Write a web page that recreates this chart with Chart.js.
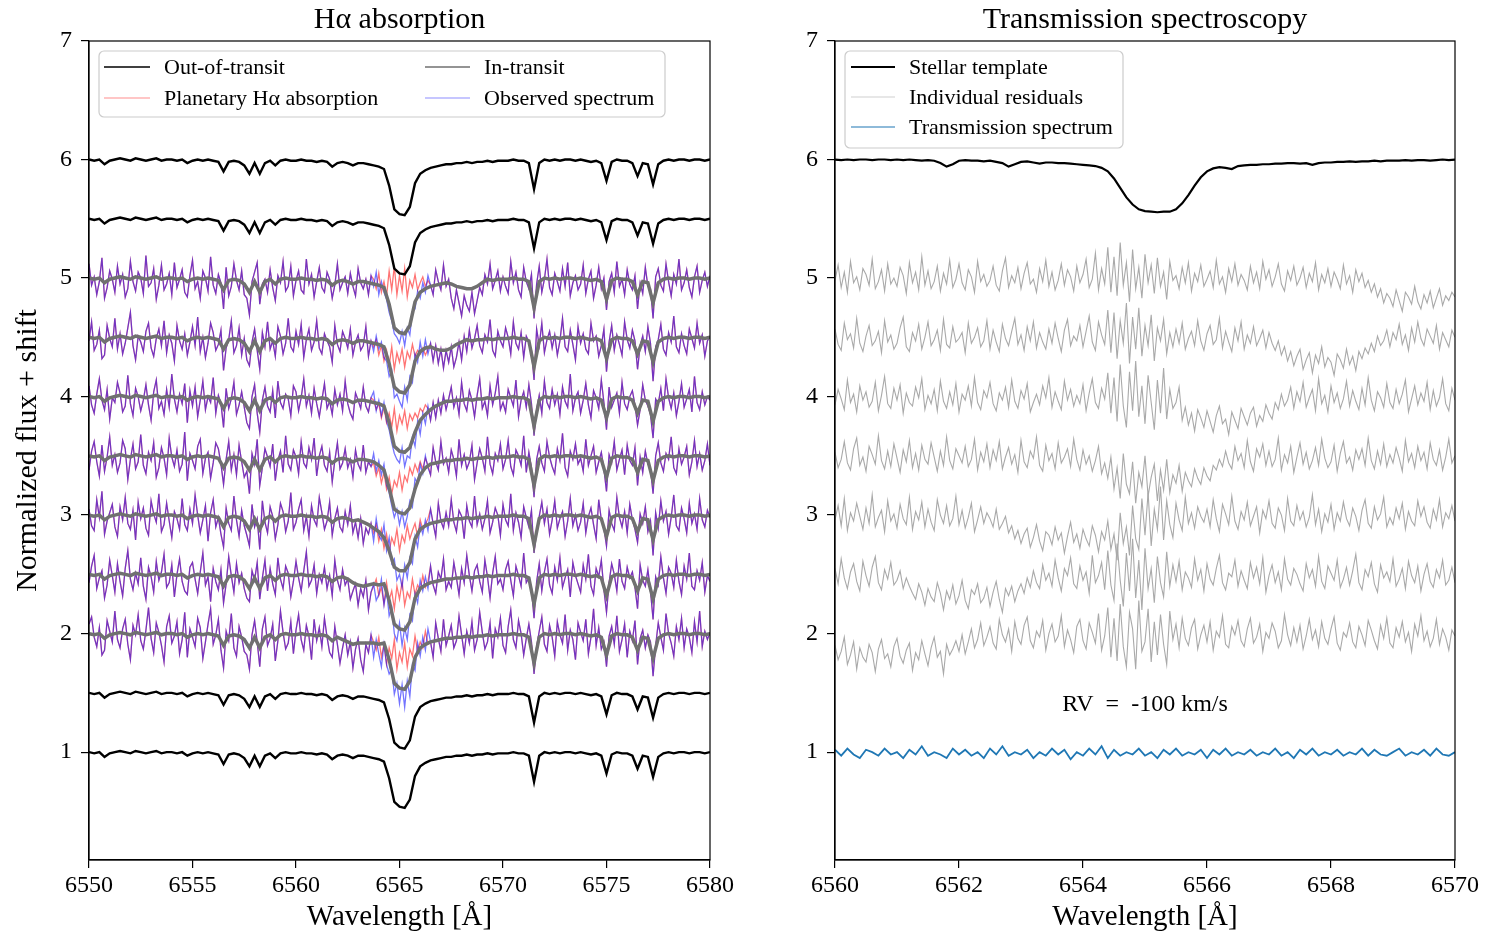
<!DOCTYPE html>
<html>
<head>
<meta charset="utf-8">
<title>H-alpha absorption and transmission spectroscopy</title>
<script src="https://cdn.jsdelivr.net/npm/chart.js@4.4.0/dist/chart.umd.min.js"></script>
<style>
    html, body { margin: 0; padding: 0; background: #fff; }
    #wrap { position: relative; width: 1486px; height: 935px; }
    canvas { position: absolute; top: 0; }
    #leftChart { left: 0; }
    #rightChart { left: 743px; }
</style>
</head>
<body>
<div id="wrap">
    <canvas id="leftChart" width="743" height="935"></canvas>
    <canvas id="rightChart" width="743" height="935"></canvas>
</div>
<script>
// --- Data ---

// Left panel wavelength grids: 0.25 A for the smooth spectra, 0.125 A for the noisy ones
const leftWave = Array.from({ length: 121 }, (_, i) => +(6550 + i * 0.25).toFixed(3));
const leftWaveFine = Array.from({ length: 241 }, (_, i) => +(6550 + i * 0.125).toFixed(3));
const leftTicksX = [6550, 6555, 6560, 6565, 6570, 6575, 6580];
const yTicks = [1, 2, 3, 4, 5, 6, 7];

// Out-of-transit stellar spectrum (normalized)
const starFlux = [
    1.00, 0.99, 1.00, 0.96, 0.99, 1.00, 1.01, 1.00, 0.99, 1.01,
    1.00, 0.99, 1.00, 1.01, 0.99, 1.00, 1.00, 0.99, 1.00, 0.97,
    0.99, 1.00, 0.99, 1.00, 0.99, 0.98, 0.90, 0.98, 0.99, 0.98,
    0.95, 0.88, 0.97, 0.88, 0.97, 0.99, 0.95, 0.99, 1.00, 0.99,
    0.99, 1.00, 0.99, 0.99, 0.98, 0.99, 0.98, 0.94, 0.97, 0.98,
    0.97, 0.95, 0.97, 0.97, 0.96, 0.95, 0.94, 0.92, 0.78, 0.58,
    0.54, 0.53, 0.60, 0.80, 0.88, 0.91, 0.93, 0.94, 0.95, 0.96,
    0.96, 0.97, 0.97, 0.98, 0.97, 0.98, 0.98, 0.99, 0.98, 0.99,
    0.99, 0.99, 1.00, 0.99, 0.99, 0.97, 0.75, 0.97, 1.00, 0.99,
    1.00, 0.99, 1.00, 1.00, 0.99, 1.00, 0.99, 0.98, 0.99, 0.97,
    0.82, 0.98, 1.00, 0.99, 0.99, 0.97, 0.86, 0.97, 0.96, 0.79,
    0.96, 0.99, 1.00, 0.99, 1.00, 1.00, 0.99, 1.00, 1.00, 0.99, 1.00
];
const outShifts = [0, 0.5, 4.5, 5.0];

// In-transit spectra: the stellar spectrum with the planetary dip spliced in
const inRow1 = [...starFlux.slice(0, 48), 0.97, 0.95, 0.93, 0.91, 0.92, 0.92, 0.92, 0.92, 0.91, ...starFlux.slice(57)];
const inRow2 = [...starFlux.slice(0, 50), 0.96, 0.93, 0.91, 0.90, 0.91, 0.92, 0.91, ...starFlux.slice(57)];
const inRow3 = [...starFlux.slice(0, 52), 0.96, 0.94, 0.92, 0.89, 0.86, 0.81, 0.70, 0.56, 0.53, 0.53, 0.60, ...starFlux.slice(63)];
const inRow4 = [...starFlux.slice(0, 56), 0.92, 0.88, 0.73, 0.55, 0.52, 0.51, 0.56, 0.72, 0.84, 0.90, ...starFlux.slice(66)];
const inRow5 = [...starFlux.slice(0, 61), 0.53, 0.57, 0.70, 0.80, 0.85, 0.89, 0.92, 0.94, ...starFlux.slice(69)];
const inRow6 = [...starFlux.slice(0, 66), 0.92, 0.90, 0.89, 0.89, 0.91, 0.94, 0.96, ...starFlux.slice(73)];
const inRow7 = [...starFlux.slice(0, 70), 0.95, 0.93, 0.92, 0.91, 0.91, 0.93, 0.96, ...starFlux.slice(77)];
const inShifts = [1.0, 1.5, 2.0, 2.5, 3.0, 3.5, 4.0];

// Observed spectra (blue), on the fine grid
const obsRow1 = [
    1.08, 1.14, 0.97, 0.89, 1.05, 0.82, 0.86, 1.11, 1.02, 0.93,
    1.19, 0.95, 0.88, 1.04, 1.12, 0.91, 0.78, 1.07, 0.99, 1.16,
    0.94, 0.87, 1.03, 1.22, 0.96, 0.84, 1.09, 1.01, 0.90, 0.76,
    1.06, 1.15, 0.92, 0.98, 1.10, 0.83, 0.95, 1.18, 0.80, 1.04,
    0.97, 0.89, 1.13, 1.05, 0.79, 0.93, 1.08, 1.21, 0.91, 0.99,
    1.12, 0.86, 0.71, 1.02, 0.94, 1.17, 0.88, 0.81, 1.06, 0.97,
    0.85, 0.82, 0.70, 0.99, 1.11, 0.93, 0.72, 1.04, 1.14, 0.90,
    0.96, 1.08, 0.77, 0.94, 1.19, 1.01, 0.87, 0.92, 1.10, 0.83,
    1.03, 1.16, 0.95, 0.86, 1.07, 0.98, 0.78, 1.12, 0.94, 1.05,
    0.89, 1.13, 0.97, 0.84, 0.80, 1.06, 0.91, 0.75, 0.88, 0.99,
    0.82, 0.93, 0.71, 0.87, 0.96, 0.78, 0.68, 0.91, 0.84, 0.99,
    0.80, 0.95, 0.83, 0.72, 0.91, 0.74, 0.66, 0.70, 0.49, 0.58,
    0.41, 0.57, 0.38, 0.60, 0.47, 0.74, 0.69, 0.92, 0.81, 0.97,
    0.86, 1.04, 0.93, 0.80, 1.09, 0.96, 0.85, 1.12, 0.90, 0.98,
    1.07, 0.88, 0.94, 1.15, 0.99, 0.83, 1.02, 0.92, 1.10, 0.86,
    0.95, 1.18, 1.01, 0.87, 0.93, 1.09, 0.79, 1.04, 0.97, 1.13,
    0.90, 0.84, 1.06, 1.20, 0.95, 0.88, 1.11, 1.00, 0.82, 0.96,
    1.08, 0.93, 0.66, 0.89, 1.02, 1.14, 0.91, 0.85, 1.07, 0.97,
    0.81, 1.10, 0.99, 0.92, 1.16, 0.86, 1.03, 0.95, 0.78, 1.09,
    1.01, 0.94, 1.12, 0.83, 0.97, 1.21, 0.90, 1.05, 0.87, 0.93,
    0.72, 0.98, 1.06, 0.91, 1.15, 0.85, 0.95, 1.08, 0.80, 1.02,
    0.94, 1.11, 0.74, 0.96, 1.03, 0.88, 0.99, 0.93, 0.64, 0.90,
    1.09, 0.97, 0.86, 1.17, 1.00, 0.92, 0.81, 1.06, 0.95, 1.13,
    0.88, 1.04, 0.97, 0.84, 1.10, 0.93, 1.19, 0.89, 1.02, 0.95,
    1.01
];
const obsRow2 = [
    0.93, 1.07, 1.16, 0.88, 0.97, 1.03, 0.80, 0.91, 1.12, 0.99,
    0.85, 1.09, 0.94, 0.82, 1.05, 1.20, 0.96, 0.87, 1.01, 0.92,
    1.14, 0.90, 0.79, 1.06, 0.98, 0.85, 1.11, 0.95, 1.02, 1.17,
    0.89, 0.93, 1.08, 0.81, 1.00, 1.13, 0.94, 0.86, 0.83, 1.06,
    1.10, 0.96, 0.84, 1.02, 1.18, 0.91, 0.98, 0.77, 1.05, 0.94,
    0.87, 1.04, 0.76, 0.92, 1.15, 0.99, 0.85, 1.09, 0.93, 1.01,
    0.88, 0.80, 0.77, 1.03, 0.95, 1.10, 0.79, 0.97, 1.12, 0.86,
    1.05, 0.92, 0.83, 1.14, 0.96, 0.88, 1.07, 1.01, 0.81, 0.94,
    1.11, 0.97, 0.86, 1.03, 1.19, 0.90, 0.95, 1.08, 0.84, 1.00,
    0.93, 1.06, 0.88, 0.99, 0.82, 1.12, 0.95, 0.87, 1.04, 0.91,
    0.96, 0.79, 0.86, 0.92, 0.74, 0.88, 0.81, 0.95, 0.70, 0.85,
    0.92, 0.78, 0.83, 0.96, 0.74, 0.87, 0.65, 0.72, 0.50, 0.44,
    0.59, 0.40, 0.55, 0.45, 0.66, 0.61, 0.84, 0.76, 0.95, 0.86,
    0.98, 0.88, 1.07, 0.91, 0.84, 1.02, 0.96, 1.13, 0.87, 0.94,
    0.89, 1.10, 0.97, 0.83, 1.05, 0.93, 1.16, 0.99, 0.86, 1.03,
    1.08, 0.94, 0.85, 1.12, 0.98, 0.80, 1.01, 1.15, 0.92, 0.96,
    0.87, 1.04, 1.11, 0.95, 0.82, 1.07, 0.99, 0.90, 1.18, 0.93,
    0.97, 0.88, 0.63, 0.94, 1.09, 0.86, 1.02, 1.13, 0.91, 0.84,
    1.06, 0.95, 1.14, 0.89, 0.97, 1.04, 0.81, 1.10, 0.99, 0.92,
    0.85, 1.08, 0.96, 1.17, 0.90, 0.83, 1.05, 0.98, 1.12, 0.87,
    0.68, 0.93, 1.09, 1.00, 0.86, 1.13, 0.94, 0.88, 1.06, 0.97,
    1.02, 0.89, 0.71, 1.08, 0.95, 0.90, 1.04, 0.86, 0.62, 0.98,
    0.91, 1.15, 0.97, 0.84, 1.06, 1.01, 0.89, 1.12, 0.94, 0.83,
    1.07, 0.96, 1.18, 0.90, 0.87, 1.03, 0.95, 1.10, 0.85, 0.99,
    0.94
];
const obsRow3 = [
    1.05, 0.91, 0.87, 1.13, 0.98, 1.20, 0.84, 0.95, 1.02, 1.09,
    0.90, 0.82, 1.07, 0.96, 1.15, 0.93, 0.88, 1.04, 0.79, 1.11,
    0.97, 1.06, 0.89, 0.83, 1.12, 1.01, 0.94, 1.18, 0.86, 0.92,
    1.10, 0.95, 0.81, 1.03, 0.97, 0.88, 1.14, 0.92, 0.87, 1.05,
    0.93, 1.17, 1.00, 0.85, 0.96, 1.08, 0.78, 1.02, 1.13, 0.90,
    0.98, 0.84, 0.73, 1.06, 0.93, 0.87, 1.16, 0.96, 0.82, 1.04,
    0.91, 0.83, 0.74, 1.09, 0.90, 0.97, 0.71, 1.12, 0.94, 0.85,
    1.07, 0.99, 0.80, 0.92, 1.10, 1.03, 0.86, 0.95, 1.19, 0.88,
    0.94, 1.05, 1.13, 0.87, 0.99, 0.82, 1.08, 0.96, 0.91, 1.15,
    1.02, 0.88, 0.95, 1.11, 0.83, 0.97, 1.06, 0.90, 0.86, 1.03,
    0.92, 1.08, 0.85, 0.94, 0.81, 0.97, 0.76, 0.89, 0.84, 0.93,
    0.78, 0.97, 0.83, 0.79, 0.92, 0.70, 0.81, 0.59, 0.63, 0.45,
    0.50, 0.39, 0.58, 0.47, 0.64, 0.59, 0.82, 0.73, 0.92, 0.84,
    0.96, 0.87, 1.05, 0.93, 0.82, 1.10, 0.95, 0.89, 1.02, 0.91,
    1.13, 0.94, 0.86, 1.04, 0.99, 0.80, 1.08, 0.95, 0.90, 1.16,
    0.92, 1.01, 0.88, 0.97, 1.12, 0.85, 0.94, 1.06, 1.00, 0.83,
    1.09, 0.96, 0.91, 1.18, 0.87, 1.02, 0.94, 0.81, 1.07, 0.98,
    0.90, 1.04, 0.68, 0.86, 0.99, 1.11, 0.93, 1.05, 0.84, 0.96,
    1.12, 0.89, 0.97, 1.03, 0.82, 0.95, 1.14, 0.91, 1.00, 0.87,
    0.94, 1.10, 0.85, 0.99, 1.06, 0.92, 0.80, 1.13, 0.96, 0.89,
    0.74, 1.04, 0.93, 0.87, 1.15, 0.98, 0.90, 1.03, 0.85, 1.09,
    0.96, 0.88, 0.77, 1.01, 0.93, 1.07, 0.86, 0.95, 0.66, 1.02,
    0.89, 1.12, 0.95, 1.03, 0.84, 0.98, 1.17, 0.91, 0.87, 1.06,
    0.97, 0.85, 1.10, 0.93, 1.01, 0.88, 1.14, 0.96, 0.90, 1.04,
    0.98
];
const obsRow4 = [
    0.88, 1.04, 1.12, 0.95, 0.83, 1.09, 0.87, 0.99, 1.16, 0.92,
    1.01, 0.86, 0.94, 1.13, 1.06, 0.80, 0.97, 1.10, 0.89, 0.95,
    1.18, 0.92, 0.85, 1.03, 0.96, 1.11, 0.82, 0.90, 1.07, 0.98,
    0.84, 1.15, 0.99, 0.91, 1.05, 0.87, 0.93, 1.20, 0.79, 1.02,
    0.96, 0.89, 1.08, 1.14, 0.85, 0.98, 1.03, 0.81, 0.94, 1.11,
    1.06, 0.93, 0.76, 0.97, 1.12, 0.88, 1.01, 0.84, 1.09, 0.95,
    0.82, 0.87, 0.68, 1.02, 0.93, 1.14, 0.75, 0.90, 1.06, 0.99,
    0.91, 1.10, 0.79, 0.96, 1.04, 0.86, 1.17, 0.93, 0.88, 1.05,
    0.99, 0.85, 1.12, 0.94, 0.90, 1.07, 0.97, 1.15, 0.83, 1.00,
    1.08, 0.92, 0.87, 1.03, 0.78, 0.96, 1.11, 0.89, 0.94, 1.06,
    0.90, 0.97, 0.82, 1.05, 0.93, 0.88, 1.09, 0.86, 0.95, 0.91,
    1.02, 0.87, 0.96, 0.84, 0.93, 0.75, 0.69, 0.58, 0.48, 0.55,
    0.42, 0.53, 0.40, 0.49, 0.62, 0.57, 0.81, 0.77, 0.93, 0.85,
    1.00, 0.90, 0.84, 1.07, 0.95, 0.88, 1.12, 0.93, 0.98, 0.86,
    1.05, 0.97, 0.83, 1.14, 0.92, 1.01, 0.89, 0.95, 1.09, 0.80,
    0.94, 1.06, 0.98, 0.87, 1.16, 0.93, 0.85, 1.02, 0.96, 1.10,
    0.89, 0.97, 1.13, 0.91, 0.84, 1.05, 1.00, 0.92, 1.17, 0.86,
    1.03, 0.90, 0.65, 0.97, 1.08, 0.94, 0.87, 1.12, 0.99, 0.91,
    0.85, 1.06, 0.96, 1.19, 0.90, 0.83, 1.04, 0.97, 1.10, 0.93,
    0.98, 0.87, 1.14, 0.92, 1.00, 1.08, 0.86, 0.95, 1.03, 0.89,
    0.70, 1.01, 0.94, 1.12, 0.88, 0.97, 1.05, 0.84, 1.09, 0.96,
    0.92, 1.07, 0.75, 0.99, 0.86, 1.04, 0.93, 0.89, 0.68, 1.00,
    1.11, 0.94, 0.87, 1.02, 0.97, 1.16, 0.90, 0.85, 1.06, 0.93,
    0.99, 1.08, 0.84, 0.95, 1.13, 0.91, 1.02, 0.88, 0.96, 1.10,
    0.92
];
const obsRow5 = [
    1.09, 0.93, 0.86, 1.02, 1.15, 0.97, 0.89, 1.06, 0.81, 0.99,
    0.95, 1.12, 1.03, 0.87, 0.92, 1.18, 0.94, 0.84, 1.07, 1.00,
    0.88, 0.97, 1.10, 0.93, 0.80, 1.04, 1.14, 0.90, 0.96, 0.85,
    1.06, 0.91, 1.19, 0.98, 0.87, 1.02, 0.94, 1.11, 0.78, 1.05,
    0.92, 1.08, 0.83, 0.97, 1.13, 0.89, 1.00, 0.95, 1.16, 0.86,
    1.01, 0.94, 0.74, 1.07, 0.90, 0.98, 1.12, 0.85, 0.93, 1.04,
    0.91, 0.78, 0.73, 1.00, 1.10, 0.86, 0.70, 0.97, 1.08, 0.92,
    0.87, 1.05, 0.82, 1.13, 0.95, 0.90, 1.02, 0.98, 0.84, 1.09,
    1.04, 0.88, 0.99, 1.15, 0.92, 1.01, 0.86, 1.07, 0.94, 0.83,
    0.97, 1.11, 0.90, 0.96, 0.85, 1.06, 0.93, 1.02, 0.88, 1.13,
    0.94, 0.86, 0.81, 1.03, 0.97, 0.90, 1.08, 0.92, 0.87, 0.99,
    1.04, 0.88, 0.97, 0.84, 0.95, 0.79, 0.72, 0.61, 0.52, 0.47,
    0.44, 0.57, 0.41, 0.50, 0.48, 0.66, 0.58, 0.79, 0.68, 0.86,
    0.77, 0.92, 0.80, 0.95, 0.82, 0.97, 0.86, 1.01, 0.89, 0.98,
    1.08, 0.91, 0.99, 0.85, 1.12, 0.94, 0.88, 1.05, 0.97, 0.83,
    1.01, 1.15, 0.90, 0.96, 0.84, 1.09, 0.93, 1.03, 1.17, 0.89,
    0.95, 0.87, 1.06, 0.99, 0.92, 1.14, 0.83, 0.97, 1.04, 0.91,
    1.10, 0.94, 0.67, 0.89, 1.01, 0.86, 1.13, 0.95, 0.90, 1.06,
    0.93, 1.02, 0.85, 1.08, 0.96, 0.91, 1.19, 0.88, 0.99, 1.04,
    0.86, 0.97, 1.11, 0.93, 0.82, 1.05, 0.99, 0.90, 1.14, 0.95,
    0.72, 1.08, 0.91, 0.97, 1.03, 0.86, 1.12, 0.94, 0.89, 1.00,
    1.05, 0.93, 0.76, 0.89, 1.10, 0.97, 0.92, 0.85, 0.65, 0.98,
    0.94, 1.07, 0.88, 1.15, 0.99, 0.90, 1.03, 0.84, 0.96, 1.11,
    0.91, 0.98, 1.06, 0.87, 1.17, 0.95, 0.89, 1.04, 0.93, 1.00,
    0.97
];
const obsRow6 = [
    0.97, 1.13, 0.89, 0.94, 1.06, 0.82, 0.85, 1.10, 0.99, 0.92,
    1.16, 0.90, 1.03, 0.86, 0.95, 1.08, 1.21, 0.93, 0.81, 1.01,
    0.96, 0.88, 1.05, 1.12, 0.91, 0.84, 0.99, 1.07, 0.93, 1.14,
    0.87, 1.02, 0.95, 0.80, 1.10, 0.97, 0.90, 1.03, 0.85, 0.96,
    1.09, 0.93, 1.17, 0.88, 1.00, 0.83, 0.95, 1.12, 1.04, 0.89,
    0.94, 1.06, 0.72, 0.91, 0.98, 1.14, 0.87, 0.93, 1.08, 0.85,
    0.99, 0.81, 0.76, 0.96, 1.07, 0.89, 0.73, 1.04, 0.92, 1.13,
    0.90, 0.97, 0.84, 1.09, 1.01, 0.86, 0.95, 1.16, 0.92, 0.88,
    1.05, 0.94, 1.11, 0.83, 0.98, 1.07, 0.89, 0.96, 1.14, 0.91,
    0.86, 1.03, 0.97, 0.92, 0.79, 1.10, 0.94, 0.88, 1.05, 0.99,
    0.91, 1.07, 0.85, 0.96, 1.02, 0.89, 0.93, 1.09, 0.84, 0.97,
    0.88, 1.01, 0.90, 0.96, 0.83, 0.80, 0.67, 0.72, 0.49, 0.52,
    0.46, 0.41, 0.58, 0.47, 0.67, 0.62, 0.86, 0.79, 0.96, 0.84,
    0.98, 0.86, 0.95, 0.80, 0.93, 0.78, 0.90, 0.74, 0.89, 0.79,
    0.92, 0.75, 0.83, 0.96, 0.81, 1.01, 0.88, 1.06, 0.91, 0.99,
    1.10, 0.93, 0.87, 1.02, 0.96, 1.15, 0.89, 0.84, 1.05, 0.97,
    0.92, 1.08, 1.00, 0.86, 1.13, 0.95, 0.90, 1.04, 0.83, 1.01,
    0.96, 0.89, 0.64, 1.07, 0.93, 1.12, 0.87, 0.98, 1.05, 0.91,
    1.02, 0.85, 0.97, 1.16, 0.92, 0.88, 1.06, 0.94, 0.81, 1.09,
    0.95, 1.03, 0.90, 0.86, 1.12, 0.97, 1.01, 0.84, 0.93, 1.07,
    0.71, 0.96, 1.10, 0.89, 1.02, 0.94, 0.85, 1.13, 0.98, 0.91,
    1.06, 0.97, 0.73, 0.93, 1.01, 0.88, 1.09, 0.95, 0.63, 0.92,
    0.98, 1.11, 0.90, 0.85, 1.04, 0.96, 1.18, 0.92, 0.87, 1.03,
    0.93, 0.86, 1.07, 0.99, 0.91, 1.12, 0.95, 1.02, 0.84, 0.97,
    1.01
];
const obsRow7 = [
    1.12, 0.94, 1.01, 0.86, 0.97, 1.17, 0.83, 0.92, 1.06, 0.99,
    0.88, 1.10, 0.95, 1.03, 0.84, 0.91, 1.14, 0.97, 0.89, 1.05,
    1.00, 0.87, 1.19, 0.93, 0.96, 1.08, 0.82, 0.94, 1.11, 0.90,
    0.95, 1.04, 0.86, 1.13, 0.92, 0.99, 1.07, 0.88, 0.84, 1.02,
    1.15, 0.91, 0.97, 0.83, 1.06, 1.00, 0.89, 1.18, 0.94, 0.87,
    1.03, 0.96, 0.74, 1.09, 0.85, 0.93, 1.12, 0.98, 0.90, 1.06,
    0.86, 0.83, 0.69, 0.97, 1.05, 1.13, 0.78, 0.95, 0.99, 0.88,
    1.07, 0.92, 0.81, 1.02, 0.96, 1.14, 0.89, 0.93, 1.10, 0.85,
    0.98, 1.06, 0.90, 0.87, 1.16, 0.95, 1.03, 0.84, 0.97, 1.09,
    0.92, 0.88, 1.05, 0.99, 0.83, 0.94, 1.12, 0.90, 0.96, 1.01,
    0.87, 1.04, 0.93, 0.85, 1.08, 0.96, 0.91, 0.99, 0.86, 1.02,
    0.93, 1.05, 0.86, 0.97, 0.88, 0.82, 0.71, 0.64, 0.53, 0.50,
    0.45, 0.55, 0.43, 0.58, 0.52, 0.72, 0.74, 0.89, 0.83, 0.96,
    0.88, 1.02, 0.94, 0.86, 1.07, 0.97, 0.90, 1.11, 0.93, 0.99,
    0.83, 0.74, 0.90, 0.79, 0.68, 0.85, 0.77, 0.72, 0.88, 0.70,
    0.81, 0.92, 0.86, 1.03, 0.95, 1.12, 0.91, 0.98, 1.06, 0.89,
    1.01, 0.93, 0.87, 1.14, 0.96, 1.05, 0.90, 0.84, 1.09, 0.97,
    0.91, 1.03, 0.66, 0.95, 1.10, 0.88, 0.99, 1.16, 0.92, 0.86,
    1.04, 0.97, 0.89, 1.08, 0.93, 1.13, 0.85, 0.96, 1.02, 0.90,
    0.95, 1.11, 0.87, 0.99, 1.06, 0.83, 0.94, 1.09, 0.91, 1.00,
    0.73, 0.97, 1.04, 0.88, 1.14, 0.93, 0.99, 0.86, 1.07, 0.95,
    0.90, 1.02, 0.74, 0.96, 0.87, 1.09, 0.93, 0.91, 0.66, 1.01,
    1.08, 0.94, 0.89, 1.12, 0.97, 0.85, 1.03, 0.95, 1.16, 0.90,
    0.96, 1.07, 0.92, 0.84, 1.01, 1.10, 0.88, 0.98, 1.05, 0.93,
    1.02
];

// Spectra with planetary H-alpha absorption (red): they coincide with the
// observed spectra outside the H-alpha core, where they stay higher
const planRow1 = [...obsRow1.slice(0, 110), 0.93, 0.86, 0.97, 0.80, 0.91, 0.74, 0.88, 0.79, 0.95, 0.70, 0.84, 0.76, 0.92, 0.72, 0.87, 0.81, 0.98, 0.85, 0.93, 0.88, 1.02, 0.91, ...obsRow1.slice(132)];
const planRow2 = [...obsRow2.slice(0, 110), 0.90, 0.96, 0.82, 0.89, 0.75, 0.93, 0.78, 0.86, 0.71, 0.90, 0.79, 0.94, 0.74, 0.85, 0.80, 0.96, 0.83, 0.91, 0.87, 0.99, 0.89, 0.94, ...obsRow2.slice(132)];
const planRow3 = [...obsRow3.slice(0, 110), 0.85, 0.92, 0.78, 0.88, 0.72, 0.84, 0.69, 0.81, 0.75, 0.88, 0.70, 0.83, 0.77, 0.91, 0.80, 0.87, 0.93, 0.82, 0.96, 0.88, 0.92, 0.97, ...obsRow3.slice(132)];
const planRow4 = [...obsRow4.slice(0, 110), 0.94, 0.83, 0.90, 0.77, 0.86, 0.72, 0.82, 0.68, 0.79, 0.74, 0.86, 0.71, 0.83, 0.78, 0.90, 0.84, 0.93, 0.87, 0.95, 0.89, 0.98, 0.92, ...obsRow4.slice(132)];
const planRow5 = [...obsRow5.slice(0, 110), 0.97, 0.89, 0.94, 0.82, 0.91, 0.78, 0.86, 0.74, 0.90, 0.71, 0.84, 0.77, 0.88, 0.73, 0.85, 0.80, 0.86, 0.82, 0.90, 0.87, 0.93, 0.90, ...obsRow5.slice(132)];
const planRow6 = [...obsRow6.slice(0, 110), 0.92, 0.98, 0.85, 0.93, 0.80, 0.89, 0.76, 0.92, 0.73, 0.87, 0.79, 0.90, 0.75, 0.88, 0.82, 0.94, 0.84, 0.89, 0.86, 0.91, 0.85, 0.90, ...obsRow6.slice(132)];
const planRow7 = [...obsRow7.slice(0, 110), 0.99, 0.91, 1.04, 0.88, 0.97, 0.85, 1.06, 0.90, 1.10, 0.86, 1.02, 0.89, 1.08, 0.84, 0.98, 0.92, 1.03, 0.90, 0.96, 1.01, 0.93, 0.98, ...obsRow7.slice(132)];

// Right panel wavelength grids: 0.1 A and 0.05 A steps from 6560 to 6570
const rightWave = Array.from({ length: 101 }, (_, i) => +(6560 + i * 0.1).toFixed(2));
const rightWaveFine = Array.from({ length: 201 }, (_, i) => +(6560 + i * 0.05).toFixed(2));
const rightTicksX = [6560, 6562, 6564, 6566, 6568, 6570];

const templateFlux = [
    1.000, 0.995, 1.000, 0.995, 1.000, 1.000, 0.995, 1.000, 1.000, 0.995,
    1.000, 0.995, 1.000, 0.995, 0.990, 0.995, 0.990, 0.970, 0.940, 0.960,
    0.990, 0.995, 0.990, 0.990, 0.985, 0.990, 0.980, 0.970, 0.940, 0.960,
    0.980, 0.985, 0.975, 0.965, 0.975, 0.975, 0.970, 0.970, 0.965, 0.960,
    0.955, 0.950, 0.945, 0.930, 0.900, 0.840, 0.760, 0.680, 0.620, 0.580,
    0.565, 0.560, 0.555, 0.560, 0.560, 0.580, 0.630, 0.700, 0.780, 0.850,
    0.900, 0.925, 0.935, 0.930, 0.920, 0.945, 0.950, 0.955, 0.955, 0.960,
    0.960, 0.965, 0.965, 0.970, 0.970, 0.965, 0.970, 0.955, 0.970, 0.975,
    0.975, 0.980, 0.980, 0.985, 0.980, 0.985, 0.985, 0.990, 0.985, 0.990,
    0.990, 0.990, 0.995, 0.990, 0.995, 0.995, 0.990, 0.995, 1.000, 0.995,
    1.000
];
const templateShift = 5.0;

// Individual residuals (grey), one per in-transit exposure, on the fine grid
const resRow1 = [
    0.90, 0.78, 0.85, 0.97, 0.74, 0.82, 0.93, 0.70, 0.88, 0.80,
    0.76, 0.91, 0.84, 0.68, 0.87, 0.95, 0.79, 0.83, 0.72, 0.89,
    0.96, 0.81, 0.75, 0.86, 0.92, 0.69, 0.84, 0.78, 0.94, 0.83,
    0.73, 0.88, 0.97, 0.80, 0.85, 0.66, 0.91, 0.82, 0.87, 0.94,
    0.85, 0.99, 0.83, 0.93, 1.04, 0.88, 0.95, 1.09, 0.90, 0.97,
    1.06, 0.92, 0.87, 1.12, 0.99, 0.93, 1.04, 0.85, 1.10, 0.96,
    0.91, 1.07, 1.14, 0.94, 0.88, 1.02, 0.97, 1.11, 0.86, 1.00,
    1.08, 0.93, 0.98, 1.15, 0.89, 1.03, 0.95, 0.84, 1.06, 1.12,
    0.94, 0.87, 1.09, 1.01, 0.92, 1.17, 0.86, 0.98, 1.22, 0.80,
    1.13, 0.77, 1.25, 0.89, 0.72, 1.18, 1.04, 0.70, 1.28, 0.85,
    0.93, 1.21, 0.76, 1.10, 0.82, 1.16, 0.91, 0.74, 1.19, 0.95,
    1.08, 0.88, 1.13, 0.96, 0.90, 1.05, 1.12, 0.87, 0.99, 1.07,
    0.93, 1.10, 0.86, 1.02, 0.97, 1.15, 0.91, 0.88, 1.06, 0.99,
    1.11, 0.94, 0.89, 1.04, 1.13, 0.92, 0.97, 1.08, 0.85, 1.01,
    0.96, 1.09, 1.02, 0.88, 0.94, 1.16, 0.99, 0.90, 1.05, 0.93,
    1.07, 0.87, 0.98, 1.12, 0.95, 1.03, 0.89, 1.10, 0.96, 0.91,
    1.04, 1.14, 0.92, 0.86, 1.01, 0.97, 1.09, 0.93, 0.88, 1.06,
    0.99, 0.90, 1.11, 1.03, 0.94, 0.87, 1.07, 0.96, 1.13, 0.92,
    0.88, 1.05, 0.97, 1.10, 0.93, 1.01, 0.85, 1.08, 0.98, 1.15,
    0.94, 1.02, 0.89, 0.96, 1.12, 0.91, 1.04, 0.97, 0.86, 1.03,
    0.98
];
const resRow2 = [
    1.05, 0.92, 1.13, 0.97, 0.88, 1.02, 1.09, 0.94, 0.86, 1.11,
    0.99, 0.90, 1.06, 1.15, 0.93, 0.87, 1.04, 0.96, 1.10, 0.91,
    0.95, 1.03, 0.88, 0.97, 0.90, 0.84, 0.79, 0.92, 0.85, 0.74,
    0.88, 0.81, 0.77, 0.93, 0.84, 0.70, 0.86, 0.79, 0.91, 0.75,
    0.82, 0.95, 0.78, 0.71, 0.87, 0.83, 0.92, 0.76, 0.80, 0.89,
    0.73, 0.85, 0.94, 0.79, 0.68, 0.88, 0.82, 0.90, 0.77, 0.86,
    0.92, 0.84, 0.97, 0.89, 1.03, 0.93, 0.88, 1.08, 0.95, 1.01,
    0.90, 1.12, 0.97, 0.86, 1.05, 0.99, 1.14, 0.92, 0.88, 1.07,
    0.95, 1.02, 0.84, 1.16, 0.93, 0.99, 1.10, 0.87, 1.20, 0.91,
    0.78, 1.26, 0.95, 0.73, 1.18, 0.86, 1.30, 0.80, 1.12, 0.70,
    1.22, 0.88, 1.05, 0.76, 1.15, 0.93, 0.81, 1.19, 0.90, 1.08,
    0.94, 1.11, 0.87, 1.02, 0.97, 0.89, 1.13, 0.95, 1.04, 0.86,
    1.09, 0.96, 0.91, 1.05, 1.16, 0.93, 0.87, 1.01, 0.98, 1.12,
    0.90, 1.03, 0.95, 0.88, 1.10, 0.97, 1.06, 0.92, 1.14, 0.85,
    0.99, 1.08, 0.93, 1.02, 0.87, 1.13, 0.96, 0.91, 1.05, 1.00,
    0.92, 0.86, 1.09, 0.97, 1.04, 0.90, 1.15, 0.94, 0.88, 1.07,
    1.01, 0.95, 1.12, 0.89, 0.96, 1.06, 0.91, 1.03, 1.17, 0.93,
    0.87, 1.04, 0.98, 1.10, 0.92, 0.85, 1.08, 0.97, 1.02, 0.94,
    1.13, 0.90, 0.96, 1.05, 0.88, 1.11, 0.99, 0.93, 1.07, 0.86,
    1.00, 1.09, 0.94, 0.89, 1.04, 0.97, 1.12, 0.91, 0.95, 1.06,
    0.93
];
const resRow3 = [
    0.96, 1.08, 0.91, 1.14, 0.87, 1.02, 0.95, 1.10, 0.99, 0.88,
    1.06, 0.93, 1.17, 0.90, 0.98, 1.04, 0.86, 1.12, 0.95, 1.01,
    0.89, 1.09, 0.97, 0.92, 1.15, 0.88, 1.03, 0.96, 1.11, 0.90,
    1.05, 0.94, 0.87, 1.13, 1.00, 0.93, 1.08, 0.91, 0.97, 1.16,
    0.92, 1.04, 0.89, 0.98, 1.10, 0.86, 0.96, 1.07, 0.93, 1.02,
    0.97, 0.90, 1.05, 0.88, 0.93, 0.99, 0.85, 0.91, 0.80, 0.87,
    0.76, 0.84, 0.89, 0.73, 0.81, 0.92, 0.78, 0.70, 0.86, 0.83,
    0.75, 0.90, 0.79, 0.85, 0.68, 0.82, 0.94, 0.77, 0.84, 0.72,
    0.88, 0.80, 0.74, 0.91, 0.83, 0.69, 0.86, 0.79, 0.95, 0.71,
    0.84, 0.62, 1.02, 0.76, 0.90, 0.66, 1.08, 0.80, 0.71, 1.14,
    0.83, 1.19, 0.74, 1.05, 0.88, 1.24, 0.79, 1.12, 0.92, 0.81,
    1.10, 0.96, 0.87, 1.15, 0.93, 1.02, 0.89, 1.07, 0.99, 0.94,
    1.05, 0.90, 1.13, 0.97, 0.86, 1.09, 1.01, 0.92, 1.16, 0.95,
    0.88, 1.03, 0.96, 1.11, 0.91, 0.99, 1.07, 0.85, 1.04, 0.97,
    1.12, 0.93, 0.89, 1.06, 1.00, 0.87, 1.14, 0.95, 0.91, 1.08,
    0.96, 1.03, 0.90, 0.98, 1.17, 0.92, 1.05, 0.86, 1.01, 0.94,
    1.09, 0.88, 1.02, 0.95, 1.11, 0.97, 0.91, 1.06, 0.99, 0.87,
    1.04, 1.13, 0.93, 0.89, 1.07, 0.96, 1.01, 1.15, 0.90, 0.98,
    0.92, 1.06, 0.97, 1.10, 0.88, 1.03, 0.95, 0.91, 1.12, 0.99,
    1.07, 0.94, 0.89, 1.05, 0.96, 1.13, 0.90, 1.02, 0.97, 1.08,
    0.95
];
const resRow4 = [
    1.03, 0.90, 0.97, 1.12, 0.94, 0.88, 1.06, 1.15, 0.92, 0.99,
    0.87, 1.08, 1.01, 0.93, 1.17, 0.96, 0.89, 1.04, 0.91, 1.10,
    0.98, 0.86, 1.05, 0.95, 1.13, 0.90, 1.02, 0.88, 1.09, 0.97,
    0.93, 1.11, 0.99, 0.87, 1.04, 0.92, 1.16, 0.96, 0.89, 1.06,
    1.00, 0.94, 1.08, 0.91, 0.97, 1.14, 0.88, 1.03, 0.95, 1.10,
    0.90, 1.05, 0.96, 1.12, 0.89, 0.99, 1.07, 0.93, 1.01, 0.86,
    1.13, 0.95, 0.90, 1.04, 0.98, 1.16, 0.92, 0.87, 1.09, 0.96,
    1.02, 0.89, 1.11, 0.94, 0.99, 1.06, 0.91, 1.14, 0.97, 0.88,
    1.05, 0.93, 1.00, 0.87, 0.96, 1.08, 0.85, 0.94, 0.81, 0.99,
    0.72, 0.90, 0.64, 1.02, 0.76, 0.68, 0.95, 0.60, 0.86, 0.74,
    1.00, 0.66, 0.82, 0.93, 0.62, 0.88, 0.71, 0.97, 0.69, 0.84,
    0.77, 0.92, 0.70, 0.86, 0.79, 0.74, 0.89, 0.81, 0.76, 0.90,
    0.83, 0.79, 0.92, 0.88, 0.97, 0.91, 1.04, 0.94, 0.89, 1.08,
    0.96, 1.02, 0.90, 1.13, 0.95, 0.87, 1.06, 0.99, 1.10, 0.92,
    1.04, 0.91, 0.97, 1.15, 0.88, 1.01, 0.94, 1.08, 0.86, 0.99,
    1.11, 0.93, 1.03, 0.89, 0.96, 1.07, 0.92, 1.14, 0.98, 0.90,
    0.95, 1.09, 0.87, 1.02, 1.12, 0.94, 0.99, 0.88, 1.05, 0.97,
    1.06, 0.92, 1.15, 0.96, 0.89, 1.04, 0.93, 1.10, 0.91, 1.01,
    0.94, 1.07, 0.98, 0.87, 1.13, 0.95, 1.02, 0.90, 1.08, 0.96,
    1.03, 0.89, 1.11, 0.97, 0.92, 1.05, 0.88, 0.99, 1.14, 0.94,
    1.00
];
const resRow5 = [
    0.93, 1.06, 0.98, 0.89, 1.14, 0.95, 1.02, 0.87, 1.09, 0.97,
    1.04, 0.91, 0.96, 1.12, 0.88, 1.01, 1.17, 0.94, 0.90, 1.07,
    0.97, 1.10, 0.86, 1.03, 0.95, 0.92, 1.08, 0.99, 1.15, 0.89,
    1.01, 0.94, 1.06, 0.88, 1.13, 0.96, 0.90, 1.04, 0.93, 1.11,
    0.87, 1.02, 0.97, 1.09, 0.92, 1.16, 0.95, 0.89, 1.05, 0.99,
    1.12, 0.94, 0.88, 1.03, 0.97, 1.08, 0.91, 1.14, 0.96, 0.90,
    1.05, 0.98, 1.11, 0.87, 0.95, 1.02, 0.93, 1.09, 0.99, 1.16,
    0.91, 1.04, 0.96, 0.89, 1.13, 0.97, 1.06, 0.92, 1.01, 0.94,
    1.10, 0.88, 1.03, 1.15, 0.95, 0.90, 1.07, 0.98, 1.20, 0.86,
    1.16, 0.79, 1.27, 0.92, 0.74, 1.21, 0.88, 1.30, 0.83, 1.09,
    0.77, 1.18, 0.95, 0.72, 1.14, 0.86, 1.24, 0.81, 1.06, 0.90,
    0.95, 1.08, 0.80, 0.91, 0.76, 0.86, 0.71, 0.89, 0.82, 0.74,
    0.88, 0.79, 0.70, 0.84, 0.92, 0.77, 0.81, 0.68, 0.87, 0.80,
    0.73, 0.90, 0.83, 0.76, 0.86, 0.91, 0.75, 0.84, 0.79, 0.93,
    0.86, 0.81, 0.95, 0.89, 1.02, 0.92, 0.97, 1.08, 0.90, 1.04,
    0.96, 1.12, 0.91, 0.99, 1.06, 0.88, 1.15, 0.94, 1.01, 0.87,
    1.09, 0.95, 1.03, 0.90, 0.98, 1.13, 0.92, 1.05, 0.96, 0.89,
    1.07, 0.93, 1.16, 0.97, 0.88, 1.04, 0.99, 0.91, 1.11, 0.95,
    0.90, 1.06, 0.94, 1.02, 1.14, 0.87, 0.98, 1.09, 0.93, 1.03,
    0.96, 1.12, 0.89, 1.05, 0.92, 0.99, 1.15, 0.94, 0.88, 1.07,
    0.97
];
const resRow6 = [
    1.07, 0.94, 0.89, 1.12, 0.98, 1.03, 0.91, 1.16, 0.95, 0.88,
    1.01, 1.10, 0.93, 0.97, 1.05, 0.87, 1.14, 0.96, 1.02, 0.90,
    0.95, 1.08, 1.17, 0.92, 0.88, 1.04, 0.97, 1.11, 0.90, 1.00,
    1.13, 0.93, 0.98, 1.06, 0.89, 1.15, 0.94, 0.91, 1.09, 0.96,
    0.99, 1.04, 0.87, 1.12, 0.95, 1.00, 1.08, 0.92, 0.97, 1.14,
    0.90, 1.06, 0.96, 0.88, 1.11, 0.99, 0.93, 1.05, 1.16, 0.94,
    1.02, 0.89, 1.09, 0.97, 1.13, 0.91, 1.04, 0.96, 0.90, 1.07,
    0.95, 1.12, 0.99, 0.88, 1.06, 1.15, 0.93, 1.01, 0.97, 1.10,
    0.92, 1.05, 1.18, 0.96, 0.89, 1.13, 1.02, 0.94, 1.23, 0.87,
    1.21, 0.82, 1.14, 0.95, 1.29, 0.78, 1.17, 0.90, 1.25, 0.84,
    1.10, 0.93, 1.19, 0.80, 1.08, 0.97, 1.15, 0.86, 1.04, 0.92,
    1.07, 0.95, 1.12, 0.90, 0.99, 1.05, 0.93, 1.14, 0.97, 0.89,
    1.03, 1.10, 0.94, 0.98, 1.16, 0.91, 1.05, 0.96, 0.88, 1.08,
    0.97, 1.13, 0.90, 1.02, 0.95, 1.09, 0.93, 0.99, 1.06, 0.91,
    1.04, 0.95, 0.89, 0.97, 0.85, 0.92, 0.80, 0.88, 0.76, 0.84,
    0.90, 0.73, 0.81, 0.87, 0.70, 0.85, 0.78, 0.92, 0.75, 0.83,
    0.79, 0.68, 0.86, 0.81, 0.74, 0.90, 0.77, 0.84, 0.72, 0.88,
    0.82, 0.91, 0.86, 0.95, 0.88, 1.01, 0.93, 0.97, 1.06, 0.92,
    1.04, 0.98, 1.11, 0.94, 1.02, 0.89, 1.08, 0.96, 1.13, 0.99,
    0.93, 1.07, 1.01, 0.95, 1.10, 0.90, 1.04, 0.98, 0.92, 1.06,
    1.00
];
const resRow7 = [
    0.98, 1.11, 0.92, 1.05, 0.88, 1.14, 0.96, 1.01, 0.90, 1.08,
    1.03, 0.94, 1.16, 0.91, 0.97, 1.07, 0.89, 1.12, 0.95, 1.00,
    0.93, 1.09, 1.02, 0.87, 1.13, 0.96, 1.05, 0.90, 1.18, 0.94,
    1.06, 0.91, 0.97, 1.10, 0.89, 1.04, 0.95, 1.15, 0.92, 0.99,
    1.12, 0.96, 0.90, 1.07, 1.01, 0.88, 1.14, 0.97, 1.03, 0.93,
    0.98, 1.10, 0.94, 0.89, 1.06, 1.17, 0.92, 1.02, 0.96, 1.09,
    0.91, 1.04, 1.13, 0.95, 0.99, 0.88, 1.08, 0.97, 1.15, 0.93,
    1.05, 0.90, 0.98, 1.12, 0.94, 1.07, 1.01, 0.89, 1.10, 0.96,
    1.03, 1.16, 0.92, 0.99, 1.21, 0.90, 1.08, 0.95, 1.26, 0.88,
    1.18, 0.85, 1.30, 0.94, 1.13, 0.80, 1.24, 0.91, 1.09, 0.83,
    1.20, 0.96, 1.11, 0.87, 1.17, 0.93, 1.05, 0.82, 1.14, 0.98,
    1.02, 0.91, 1.09, 0.96, 1.13, 0.89, 1.04, 0.97, 1.11, 0.93,
    0.99, 1.06, 0.92, 1.15, 0.95, 1.01, 0.88, 1.08, 0.97, 1.12,
    0.94, 1.03, 0.98, 0.90, 1.10, 0.96, 1.05, 0.91, 1.14, 0.99,
    1.07, 0.93, 1.01, 1.12, 0.95, 0.89, 1.06, 0.98, 1.10, 0.94,
    1.00, 1.09, 0.92, 1.04, 0.97, 1.13, 0.90, 1.03, 0.96, 1.08,
    0.93, 1.05, 0.99, 0.91, 1.11, 0.95, 1.02, 0.88, 1.07, 0.97,
    1.04, 0.92, 0.98, 0.88, 0.95, 0.84, 0.91, 0.79, 0.87, 0.83,
    0.76, 0.90, 0.81, 0.72, 0.88, 0.84, 0.78, 0.93, 0.80, 0.74,
    0.86, 0.79, 0.89, 0.75, 0.83, 0.91, 0.77, 0.85, 0.81, 0.88,
    0.84
];
const resShifts = [1.0, 1.5, 2.0, 2.5, 3.0, 3.5, 4.0];

// Combined transmission spectrum (blue), around 1.0
const transFlux = [
    1.02, 0.97, 1.03, 0.98, 0.95, 1.02, 1.00, 0.97, 1.03, 0.98,
    1.00, 0.95, 1.02, 0.98, 1.05, 0.97, 1.00, 0.98, 0.95, 1.03,
    0.98, 1.02, 0.97, 1.00, 0.95, 1.03, 0.98, 1.05, 0.97, 1.00,
    0.98, 1.02, 0.95, 1.00, 0.97, 1.03, 0.98, 1.02, 0.94, 1.00,
    0.97, 1.03, 0.98, 1.05, 0.95, 1.02, 0.97, 1.00, 0.98, 1.03,
    0.97, 1.00, 0.95, 1.02, 0.98, 1.03, 0.97, 1.00, 0.98, 1.02,
    0.95, 1.02, 0.98, 1.03, 0.97, 1.00, 0.98, 1.02, 0.97, 1.00,
    0.98, 1.03, 0.97, 1.00, 0.95, 1.02, 0.98, 1.03, 0.97, 1.00,
    0.98, 1.02, 0.97, 1.00, 0.98, 1.03, 0.97, 1.02, 0.98, 0.97,
    1.00, 1.03, 0.97, 1.00, 0.98, 1.02, 0.97, 1.03, 0.98, 0.97,
    1.00
];

// --- Styling ---

const FONT = "'Liberation Serif', 'DejaVu Serif', serif";
const RED = 'rgba(255, 0, 0, 0.55)';
const BLUE = 'rgba(0, 0, 255, 0.55)';
const GREY = '#707070';
const RESID = '#a9a9a9';
const TRANS = '#1f77b4';

/**
 * One spectrum as a Chart.js line dataset, offset by its shift.
 */
function lineSet(label, wave, flux, shift, color, width, order) {
    return {
        label: label,
        order: order,
        data: wave.map((w, i) => ({ x: w, y: flux[i] + shift })),
        borderColor: color,
        borderWidth: width,
        pointRadius: 0,
        tension: 0,
        fill: false
    };
}

// Frame, in-axes legend and annotation text, drawn after the data
const decor = {
    id: 'decor',
    afterDraw(chart, args, opts) {
        const { ctx, chartArea: a } = chart;
        ctx.save();
        ctx.strokeStyle = '#000';
        ctx.lineWidth = 1.2;
        ctx.strokeRect(a.left, a.top, a.right - a.left, a.bottom - a.top);

        if (opts.legend) {
            const lg = opts.legend;
            ctx.beginPath();
            ctx.roundRect(lg.x, lg.y, lg.w, lg.h, 5);
            ctx.fillStyle = 'rgba(255,255,255,0.8)';
            ctx.fill();
            ctx.strokeStyle = '#cccccc';
            ctx.lineWidth = 1.2;
            ctx.stroke();
            ctx.font = '22px ' + FONT;
            ctx.textBaseline = 'middle';
            ctx.textAlign = 'left';
            lg.items.forEach(it => {
                ctx.beginPath();
                ctx.moveTo(it.x1, it.y);
                ctx.lineTo(it.x2, it.y);
                ctx.strokeStyle = it.color;
                ctx.lineWidth = it.width;
                ctx.stroke();
                ctx.fillStyle = '#000';
                ctx.fillText(it.label, it.tx, it.y + 1);
            });
        }

        if (opts.note) {
            const n = opts.note;
            ctx.font = '24px ' + FONT;
            ctx.fillStyle = '#000';
            ctx.textAlign = 'center';
            ctx.textBaseline = 'middle';
            ctx.fillText(n.text, chart.scales.x.getPixelForValue(n.x), chart.scales.y.getPixelForValue(n.y));
        }
        ctx.restore();
    }
};

function buildScales(xmin, xmax, xTicks, yWidth, yTitle) {
    const tickFont = { family: FONT, size: 24 };
    return {
        x: {
            type: 'linear', min: xmin, max: xmax,
            afterBuildTicks: s => { s.ticks = xTicks.map(v => ({ value: v })); },
            afterFit: s => { s.height = 75; },
            ticks: { color: '#000', font: tickFont, padding: 3, maxRotation: 0, autoSkip: false, callback: v => String(v) },
            grid: { drawOnChartArea: false, drawTicks: true, tickLength: 8, color: '#000', lineWidth: 1.2 },
            border: { display: true, color: '#000', width: 1.2 },
            title: { display: true, text: 'Wavelength [Å]', color: '#000', font: { family: FONT, size: 29 }, padding: { top: 0, bottom: 0 } }
        },
        y: {
            type: 'linear', min: 0.09, max: 7,
            afterBuildTicks: s => { s.ticks = yTicks.map(v => ({ value: v })); },
            afterFit: s => { s.width = yWidth; },
            ticks: { color: '#000', font: tickFont, padding: 9, callback: v => String(v) },
            grid: { drawOnChartArea: false, drawTicks: true, tickLength: 8, color: '#000', lineWidth: 1.2 },
            border: { display: true, color: '#000', width: 1.2 },
            title: {
                display: !!yTitle, text: yTitle || '', color: '#000',
                font: { family: FONT, size: 30 }, padding: { top: 10, bottom: 0 }
            }
        }
    };
}

function baseOptions(title, padRight, scales, decorOpts) {
    return {
        responsive: false,
        animation: false,
        events: [],
        parsing: false,
        normalized: true,
        layout: { padding: { left: 0, right: padRight, top: 0, bottom: 0 } },
        scales: scales,
        plugins: {
            legend: { display: false },
            tooltip: { enabled: false },
            title: {
                display: true, text: title, color: '#000', fullSize: false,
                font: { family: FONT, size: 30, weight: 'normal', lineHeight: 1.2 },
                padding: { top: 2, bottom: 3 }
            },
            decor: decorOpts
        }
    };
}

// --- Left panel: H-alpha absorption ---

const inRows = [inRow1, inRow2, inRow3, inRow4, inRow5, inRow6, inRow7];
const obsRows = [obsRow1, obsRow2, obsRow3, obsRow4, obsRow5, obsRow6, obsRow7];
const planRows = [planRow1, planRow2, planRow3, planRow4, planRow5, planRow6, planRow7];

const leftSets = [];
outShifts.forEach(s => leftSets.push(lineSet('Out-of-transit', leftWave, starFlux, s, '#000', 2.4, 0)));
inRows.forEach((row, k) => leftSets.push(lineSet('In-transit', leftWave, row, inShifts[k], GREY, 3.5, 1)));
obsRows.forEach((row, k) => leftSets.push(lineSet('Observed spectrum', leftWaveFine, row, inShifts[k], BLUE, 1.3, 2)));
planRows.forEach((row, k) => leftSets.push(lineSet('Planetary Hα absorption', leftWaveFine, row, inShifts[k], RED, 1.3, 3)));

new Chart(document.getElementById('leftChart'), {
    type: 'line',
    data: { datasets: leftSets },
    options: baseOptions('Hα absorption', 33,
        buildScales(6550, 6580, leftTicksX, 89, 'Normalized flux + shift'),
        {
            legend: {
                x: 99, y: 51, w: 566, h: 66,
                items: [
                    { label: 'Out-of-transit', color: '#000', width: 1.5, x1: 104, x2: 150, tx: 164, y: 67 },
                    { label: 'Planetary Hα absorption', color: 'rgba(255,0,0,0.45)', width: 1.2, x1: 104, x2: 150, tx: 164, y: 98 },
                    { label: 'In-transit', color: GREY, width: 1.5, x1: 425, x2: 470, tx: 484, y: 67 },
                    { label: 'Observed spectrum', color: 'rgba(0,0,255,0.45)', width: 1.2, x1: 425, x2: 470, tx: 484, y: 98 }
                ]
            }
        }),
    plugins: [decor]
});

// --- Right panel: transmission spectroscopy ---

const resRows = [resRow1, resRow2, resRow3, resRow4, resRow5, resRow6, resRow7];

const rightSets = [];
rightSets.push(lineSet('Stellar template', rightWave, templateFlux, templateShift, '#000', 2.2, 0));
resRows.forEach((row, k) => rightSets.push(lineSet('Individual residuals', rightWaveFine, row, resShifts[k], RESID, 1.1, 1)));
rightSets.push(lineSet('Transmission spectrum', rightWave, transFlux, 0, TRANS, 1.8, 0));

new Chart(document.getElementById('rightChart'), {
    type: 'line',
    data: { datasets: rightSets },
    options: baseOptions('Transmission spectroscopy', 31,
        buildScales(6560, 6570, rightTicksX, 92, null),
        {
            legend: {
                x: 102, y: 51, w: 278, h: 97,
                items: [
                    { label: 'Stellar template', color: '#000', width: 1.8, x1: 108, x2: 152, tx: 166, y: 67 },
                    { label: 'Individual residuals', color: '#cfcfcf', width: 1.2, x1: 108, x2: 152, tx: 166, y: 97 },
                    { label: 'Transmission spectrum', color: TRANS, width: 1.2, x1: 108, x2: 152, tx: 166, y: 127 }
                ]
            },
            note: { text: 'RV\u2002=\u2002-100 km/s', x: 6565, y: 1.40 }
        }),
    plugins: [decor]
});
</script>
</body>
</html>
